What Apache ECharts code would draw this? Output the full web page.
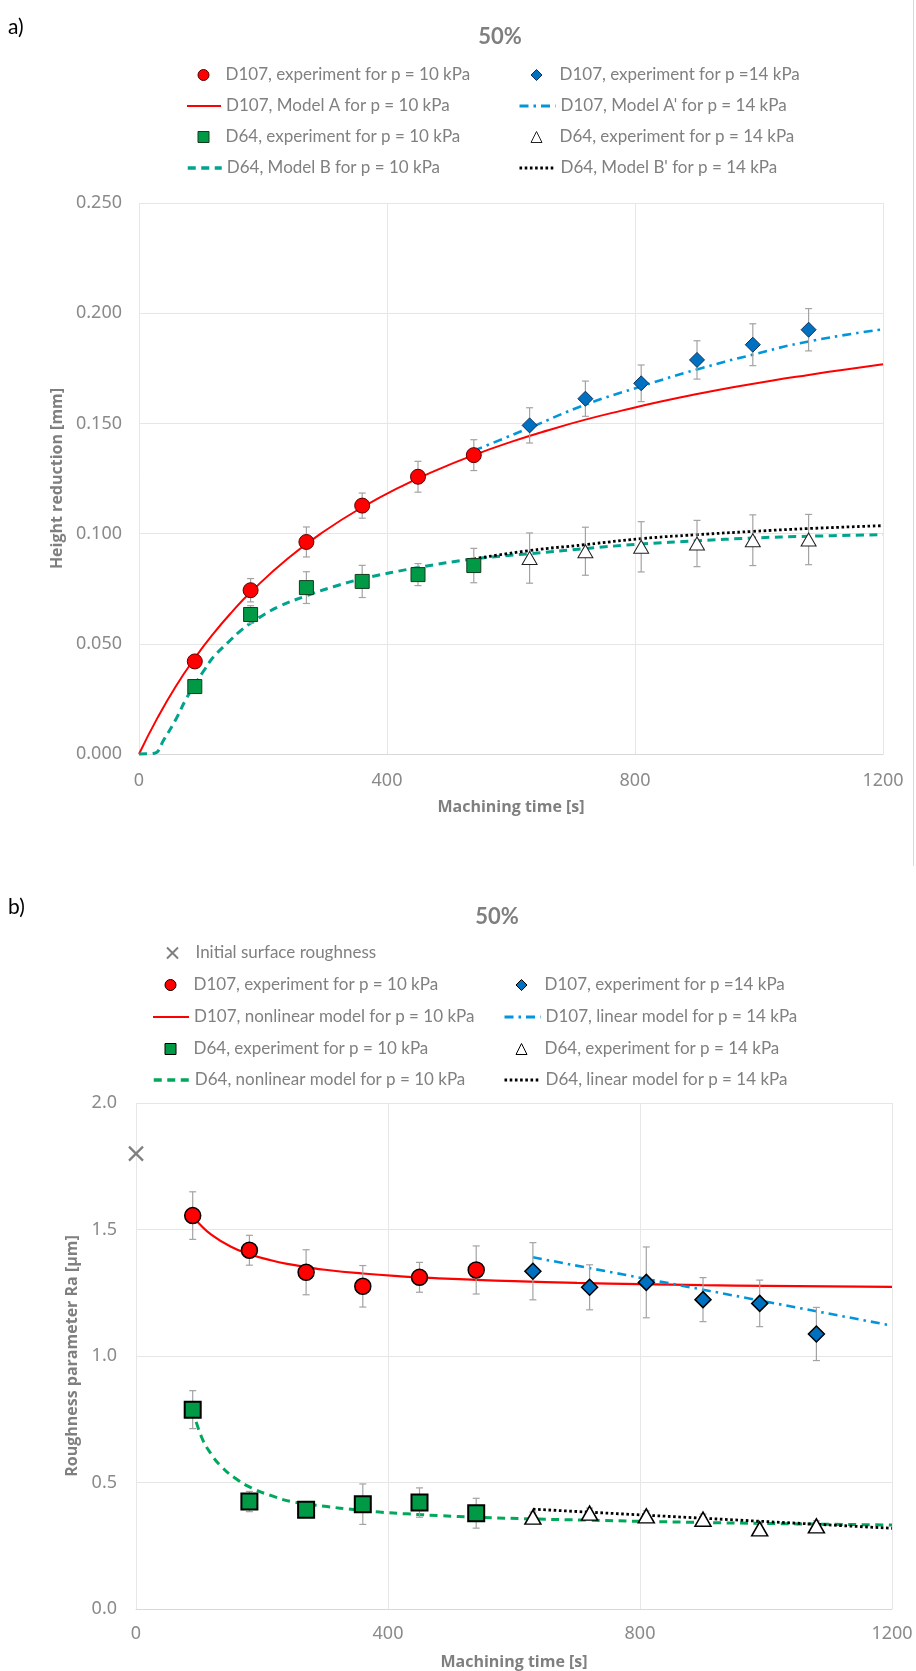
<!DOCTYPE html>
<html><head><meta charset="utf-8">
<script src="https://cdn.jsdelivr.net/npm/echarts@6/dist/echarts.min.js"></script>
<style>html,body{margin:0;padding:0;background:#fff}#c{width:916px;height:1671px}</style>
</head><body><div id="c"></div>
<script>
// ---------- Chart a) height reduction ----------
var timeA10 = [90, 180, 270, 360, 450, 540];
var d107A10 = [0.042, 0.0743, 0.0962, 0.1127, 0.1258, 0.1356];
var d107A10Err = [0.002, 0.0053, 0.0068, 0.0057, 0.007, 0.007];
var d64A10 = [0.0306, 0.0633, 0.0755, 0.0783, 0.0814, 0.0855];
var d64A10Err = [0.003, 0.004, 0.0072, 0.0073, 0.005, 0.0078];
var timeA14 = [630, 720, 810, 900, 990, 1080];
var d107A14 = [0.1491, 0.1612, 0.1682, 0.1788, 0.1857, 0.1925];
var d107A14Err = [0.008, 0.008, 0.0083, 0.0087, 0.0095, 0.0096];
var d64A14 = [0.0889, 0.092, 0.094, 0.0955, 0.097, 0.0973];
var d64A14Err = [0.0114, 0.0109, 0.0114, 0.0105, 0.0115, 0.0114];
var modelATime = [0, 30, 60, 90, 120, 150, 180, 240, 300, 360, 420, 480, 540, 600, 660, 720, 780, 840, 900, 960, 1020, 1080, 1140, 1200];
var modelA = [0, 0.0165, 0.031, 0.0435, 0.0546, 0.0645, 0.0734, 0.0887, 0.1013, 0.1119, 0.121, 0.1288, 0.1356, 0.1416, 0.1469, 0.1517, 0.1559, 0.1598, 0.1633, 0.1665, 0.1694, 0.172, 0.1745, 0.1768];
var modelA2Time = [540, 630, 720, 810, 900, 990, 1080, 1200];
var modelA2 = [0.1376, 0.148, 0.1585, 0.1668, 0.1745, 0.1812, 0.1872, 0.1927];
var modelBTime = [0, 25, 40, 60, 75, 90, 105, 120, 145, 165, 190, 225, 270, 315, 360, 450, 540, 630, 720, 810, 900, 990, 1080, 1200];
var modelB = [0, 0.0003, 0.0065, 0.016, 0.0245, 0.0315, 0.038, 0.044, 0.051, 0.0562, 0.0612, 0.0668, 0.0718, 0.076, 0.0795, 0.0846, 0.0885, 0.0909, 0.0932, 0.0953, 0.0967, 0.098, 0.0988, 0.0995];
var modelB2Time = [540, 630, 720, 810, 900, 990, 1080, 1200];
var modelB2 = [0.0885, 0.0923, 0.095, 0.0977, 0.0995, 0.101, 0.1023, 0.1036];
var yTicksA = [0, 0.05, 0.1, 0.15, 0.2, 0.25];

// ---------- Chart b) roughness ----------
var initialTime = [0];
var initialRa = [1.8];
var timeB10 = [90, 180, 270, 360, 450, 540];
var d107B10 = [1.555, 1.418, 1.331, 1.2755, 1.311, 1.34];
var d107B10Err = [0.094, 0.059, 0.089, 0.082, 0.059, 0.095];
var d64B10 = [0.788, 0.4247, 0.3918, 0.4143, 0.4207, 0.3786];
var d64B10Err = [0.075, 0.04, 0.015, 0.08, 0.058, 0.059];
var timeB14 = [630, 720, 810, 900, 990, 1080];
var d107B14 = [1.335, 1.2715, 1.291, 1.2228, 1.208, 1.087];
var d107B14Err = [0.113, 0.089, 0.14, 0.087, 0.092, 0.105];
var d64B14 = [0.363, 0.379, 0.368, 0.355, 0.3166, 0.3285];
var d64B14Err = [0.02, 0.02, 0.02, 0.02, 0.02, 0.02];
var nonlinD107Time = [90, 100, 120, 150, 180, 210, 240, 270, 300, 360, 420, 480, 540, 600, 700, 800, 900, 1000, 1100, 1200];
var nonlinD107 = [1.555, 1.524, 1.479, 1.433, 1.402, 1.381, 1.364, 1.352, 1.341, 1.326, 1.315, 1.307, 1.301, 1.296, 1.289, 1.284, 1.28, 1.277, 1.275, 1.273];
var linD107Time = [630, 1200];
var linD107 = [1.39, 1.12];
var nonlinD64Time = [90, 104, 120, 136, 157, 184, 215, 250, 303, 345, 387, 430, 483, 540, 630, 720, 810, 900, 1000, 1100, 1200];
var nonlinD64 = [0.79, 0.68, 0.61, 0.562, 0.518, 0.478, 0.448, 0.423, 0.405, 0.393, 0.383, 0.376, 0.369, 0.363, 0.356, 0.351, 0.346, 0.342, 0.338, 0.335, 0.332];
var linD64Time = [630, 1200];
var linD64 = [0.3946, 0.319];
var yTicksB = [0, 0.5, 1.0, 1.5, 2.0];
var xTicks = [0, 400, 800, 1200];

// ---------- helpers ----------
function pts(xs, ys) { return xs.map(function (x, i) { return [x, ys[i]]; }); }
function bars(xs, ys, es) { return xs.map(function (x, i) { return [x, ys[i] - es[i], ys[i] + es[i]]; }); }
function errSeries(idx, data) {
  return {
    type: 'custom', xAxisIndex: idx, yAxisIndex: idx, data: data, z: 3, silent: true, clip: false,
    encode: { x: 0, y: [1, 2] },
    renderItem: function (params, api) {
      var x = api.value(0), lo = api.value(1), hi = api.value(2);
      var a = api.coord([x, hi]), b = api.coord([x, lo]), w = 3.5;
      function st() { return { stroke: '#A3A3A3', lineWidth: 1.2 }; }
      return { type: 'group', children: [
        { type: 'line', shape: { x1: a[0], y1: a[1], x2: b[0], y2: b[1] }, style: st() },
        { type: 'line', shape: { x1: a[0] - w, y1: a[1], x2: a[0] + w, y2: a[1] }, style: st() },
        { type: 'line', shape: { x1: b[0] - w, y1: b[1], x2: b[0] + w, y2: b[1] }, style: st() }
      ] };
    }
  };
}
function lineS(idx, name, data, color, width, type, smooth) {
  return { type: 'line', name: name, xAxisIndex: idx, yAxisIndex: idx, data: data, smooth: smooth,
    symbol: 'none', z: 2, clip: false, silent: true,
    lineStyle: { color: color, width: width, type: type }, itemStyle: { color: color } };
}
function scat(idx, name, data, symbol, size, fill, border, bw) {
  return { type: 'scatter', name: name, xAxisIndex: idx, yAxisIndex: idx, data: data, symbol: symbol,
    symbolSize: size, z: 4, clip: false, silent: true,
    itemStyle: { color: fill, borderColor: border, borderWidth: bw, opacity: 1 } };
}

var N = {
  e107_10: 'D107, experiment for p = 10 kPa',
  e107_14: 'D107, experiment for p =14 kPa',
  e64_10: 'D64, experiment for p = 10 kPa',
  e64_14: 'D64, experiment for p = 14 kPa',
  mA: 'D107, Model A for p = 10 kPa',
  mA2: "D107, Model A' for p = 14 kPa",
  mB: 'D64, Model B for p = 10 kPa',
  mB2: "D64, Model B' for p = 14 kPa",
  init: 'Initial surface roughness',
  nl107: 'D107, nonlinear model for p = 10 kPa',
  l107: 'D107, linear model for p = 14 kPa',
  nl64: 'D64, nonlinear model for p = 10 kPa',
  l64: 'D64, linear model for p = 14 kPa'
};

var RED = '#FF0000', GREEN = '#009A46', BLUE = '#0070C0', CYAN = '#0096DC', TEAL = '#00A38C', GREEN2 = '#00A85A';
var TXT = '#808080';
var XPATH = 'path://M0,0L10,10M10,0L0,10';

var series = [
  lineS(0, N.mA, pts(modelATime, modelA), RED, 2, 'solid', true),
  lineS(0, N.mA2, pts(modelA2Time, modelA2), CYAN, 2.6, [9, 5, 2.5, 5], true),
  lineS(0, N.mB, pts(modelBTime, modelB), TEAL, 3, [8, 5.5], 0.4),
  lineS(0, N.mB2, pts(modelB2Time, modelB2), '#000000', 2.8, [2.6, 2.6], true),
  errSeries(0, bars(timeA10, d107A10, d107A10Err)),
  errSeries(0, bars(timeA10, d64A10, d64A10Err)),
  errSeries(0, bars(timeA14, d107A14, d107A14Err)),
  errSeries(0, bars(timeA14, d64A14, d64A14Err)),
  scat(0, N.e107_10, pts(timeA10, d107A10), 'circle', 15, RED, '#5A0000', 1),
  scat(0, N.e64_10, pts(timeA10, d64A10), 'rect', 14, GREEN, '#143A1E', 1),
  scat(0, N.e107_14, pts(timeA14, d107A14), 'diamond', 15, BLUE, '#12305A', 1),
  scat(0, N.e64_14, pts(timeA14, d64A14), 'triangle', [15, 13], '#FFFFFF', '#222222', 1),

  lineS(1, N.nl107, pts(nonlinD107Time, nonlinD107), RED, 2.2, 'solid', true),
  lineS(1, N.l107, pts(linD107Time, linD107), CYAN, 2.6, [9, 5, 2.5, 5], false),
  lineS(1, N.nl64, pts(nonlinD64Time, nonlinD64), GREEN2, 3, [8, 5.5], true),
  lineS(1, N.l64, pts(linD64Time, linD64), '#000000', 2.8, [2.6, 2.6], false),
  errSeries(1, bars(timeB10, d107B10, d107B10Err)),
  errSeries(1, bars(timeB10, d64B10, d64B10Err)),
  errSeries(1, bars(timeB14, d107B14, d107B14Err)),
  errSeries(1, bars(timeB14, d64B14, d64B14Err)),
  scat(1, N.init, pts(initialTime, initialRa), XPATH, 14, 'none', '#7F7F7F', 2.2),
  scat(1, N.e107_10 + ' ', pts(timeB10, d107B10), 'circle', 16, RED, '#000000', 1.5),
  scat(1, N.e64_10 + ' ', pts(timeB10, d64B10), 'rect', 16, GREEN, '#000000', 2),
  scat(1, N.e107_14 + ' ', pts(timeB14, d107B14), 'diamond', 16, BLUE, '#000000', 1.5),
  scat(1, N.e64_14 + ' ', pts(timeB14, d64B14), 'triangle', [16, 14], '#FFFFFF', '#000000', 1.5)
];

var LFONT = 17;
// line-sample legend item
function legL(name, left, center, w, lw) {
  return {
    data: [name], left: left, top: center - 9, orient: 'horizontal', padding: 0,
    itemWidth: w, itemHeight: 11, selectedMode: false,
    itemStyle: { opacity: 0 },
    lineStyle: lw ? { width: lw } : {},
    textStyle: { color: TXT, fontSize: LFONT, fontFamily: 'Lato', lineHeight: 18 }
  };
}
// marker legend item: marker centred at cx, text starting at tx
function legM(name, cx, tx, center, bw) {
  var s = 11, left = cx - s / 2;
  return {
    data: [name], left: left, top: center - 9, orient: 'horizontal', padding: 0,
    itemWidth: s, itemHeight: s, selectedMode: false,
    itemStyle: { borderWidth: bw },
    textStyle: { color: TXT, fontSize: LFONT, fontFamily: 'Lato', lineHeight: 18,
      padding: [0, 0, 0, tx - (left + s + 5)] }
  };
}
var legends = [
  legM(N.e107_10, 203, 225, 75, 1), legM(N.e107_14, 536, 559, 75, 1),
  legL(N.mA, 186, 106, 34), legL(N.mA2, 518, 106, 36, 3),
  legM(N.e64_10, 203, 225, 137, 1), legM(N.e64_14, 536, 559, 137, 1),
  legL(N.mB, 186, 168, 34, 3.5), legL(N.mB2, 518, 168, 36, 3),

  legM(N.init, 170, 193, 953, 2),
  legM(N.e107_10 + ' ', 170, 193, 985, 1), legM(N.e107_14 + ' ', 521, 544, 985, 1),
  legL(N.nl107, 152, 1017, 36), legL(N.l107, 503, 1017, 36, 3),
  legM(N.e64_10 + ' ', 170, 193, 1049, 1), legM(N.e64_14 + ' ', 521, 544, 1049, 1),
  legL(N.nl64, 152, 1080, 36, 3.5), legL(N.l64, 503, 1080, 36, 3)
];

function xAx(grid, gap, margin) {
  return { gridIndex: grid, type: 'value', min: xTicks[0], max: xTicks[xTicks.length - 1], interval: 400,
    name: 'Machining time [s]', nameLocation: 'middle', nameGap: gap,
    nameTextStyle: { color: '#7F7F7F', fontWeight: 'bold', fontSize: 16, fontFamily: 'Open Sans' },
    axisLine: { show: true, lineStyle: { color: '#D9D9D9', width: 1 } }, axisTick: { show: false },
    axisLabel: { margin: margin, color: '#8A8A8A', fontSize: 18, fontFamily: 'Noto Sans',
      formatter: function (v) { return String(v); } },
    splitLine: { show: true, lineStyle: { color: '#E6E6E6', width: 1 } } };
}
function yAx(grid, ticks, name, gap, margin, dec) {
  return { gridIndex: grid, type: 'value', min: ticks[0], max: ticks[ticks.length - 1], interval: ticks[1] - ticks[0],
    name: name, nameLocation: 'middle', nameGap: gap,
    nameTextStyle: { color: '#7F7F7F', fontWeight: 'bold', fontSize: 16, fontFamily: 'Open Sans' },
    axisLine: { show: false }, axisTick: { show: false },
    axisLabel: { margin: margin, color: '#8A8A8A', fontSize: 18, fontFamily: 'Noto Sans',
      formatter: function (v) { return v.toFixed(dec); } },
    splitLine: { show: true, lineStyle: { color: '#E6E6E6', width: 1 } } };
}

var option = {
  animation: false,
  backgroundColor: '#FFFFFF',
  textStyle: { fontFamily: 'Lato' },
  grid: [
    { left: 139, top: 203, width: 744, height: 551 },
    { left: 136, top: 1103, width: 756, height: 506 }
  ],
  xAxis: [xAx(0, 45, 18), xAx(1, 45, 16)],
  yAxis: [
    yAx(0, yTicksA, 'Height reduction [mm]', 66, 17, 3),
    yAx(1, yTicksB, 'Roughness parameter Ra [\u00b5m]', 49, 19, 1)
  ],
  legend: legends,
  graphic: [
    { type: 'text', x: 8, y: 27, style: { text: 'a)', fontSize: 21, fontFamily: 'Lato', fill: '#000000', align: 'left', verticalAlign: 'middle' } },
    { type: 'text', x: 500, y: 37, style: { text: '50%', fontSize: 22, fontWeight: 'bold', fontFamily: 'Lato', fill: '#7F7F7F', align: 'center', verticalAlign: 'middle' } },
    { type: 'text', x: 8, y: 907, style: { text: 'b)', fontSize: 21, fontFamily: 'Lato', fill: '#000000', align: 'left', verticalAlign: 'middle' } },
    { type: 'text', x: 497, y: 917, style: { text: '50%', fontSize: 22, fontWeight: 'bold', fontFamily: 'Lato', fill: '#7F7F7F', align: 'center', verticalAlign: 'middle' } },
    { type: 'line', shape: { x1: 913.5, y1: 0, x2: 913.5, y2: 866 }, style: { stroke: '#D9D9D9', lineWidth: 1 } }
  ],
  series: series
};
var chart = echarts.init(document.getElementById('c'), null, { renderer: 'canvas' });
chart.setOption(option);
</script></body></html>
